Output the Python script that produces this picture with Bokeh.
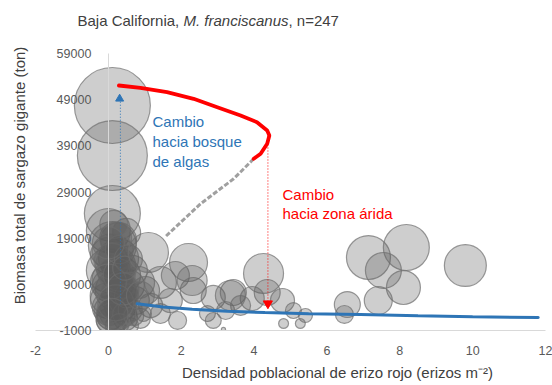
import numpy as np
from bokeh.plotting import figure
from bokeh.models import (Range1d, LinearAxis, FixedTicker, Label, ColumnDataSource,
                          CustomJSTickFormatter)
from bokeh.embed import file_html
from bokeh.resources import INLINE

# ---- data -------------------------------------------------------------
# sampled sites: red urchin density, giant kelp biomass, bubble size
urchin_density = [
    0.11, 0.11, 0.11,
    0.00, 0.11, 0.00, 0.28, 0.00, 0.39, 0.00, 0.19, 0.55, 0.00, 0.33, 0.74,
    0.06, 0.47, 0.00, 0.88, 0.66, 1.02, 0.19, 0.61, 1.16, 0.83, 0.02, 0.28, 0.50,
    0.05, 0.20, 0.10, 0.30, 0.05, 0.25, 0.10, 0.40, 0.15, 0.35, 0.00, 0.45, 0.20,
    0.60, 0.30, 0.70, 0.50, 0.15,
    0.10, 0.30, 0.00, 0.20, 0.40, 0.10, 0.30, 0.55, 0.00, 0.45,
    1.10, 2.20, 1.43, 1.84, 2.33, 2.88, 3.43, 4.26, 4.36, 3.95, 4.78, 5.08, 5.41,
    4.81, 5.27, 0.96, 1.43, 1.90, 2.72, 2.88, 3.16, 0.88, 1.70, 3.22, 3.63, 2.30, 3.35,
    7.14, 8.18, 7.55, 8.10, 7.41, 9.80, 6.56, 6.48,
]
kelp_biomass = [
    47740, 36900, 24340,
    20660, 17410, 15250, 14600, 12000, 10910, 8750, 7660, 8750, 5500, 4420, 5500,
    2250, 1600, 1170, 1600, 12000, 7660, 80, 80, 4420, 9400, 3330, 18490, 20230,
    16000, 13000, 10000, 7000, 6500, 3000, 1500, 5500, 11500, 9000, 4000, 2500, 19000,
    3500, 500, 2200, 6500, 22000,
    14000, 11000, 9500, 5000, 8000, 2500, 16500, 14500, 18000, 12500,
    15900, 13730, 9400, 10910, 7660, 6150, 7230, 11350, 7230, 5930, 5500, 3330, 2250,
    520, 520, 2680, 2680, 1170, 2680, 1170, -780, 6580, 5500, 3330, 4420, 9830, 6580,
    14810, 16980, 12000, 8310, 5500, 13080, 4630, 2470,
]
bubble_size = [
    100.0, 84.8, 54.3,
    33.5, 39.9, 22.4, 27.7, 33.5, 22.4, 17.7, 27.7, 17.7, 22.4, 17.7, 13.6,
    13.6, 10.0, 10.0, 6.9, 15.6, 13.6, 6.9, 4.4, 10.0, 17.7, 15.6, 22.4, 13.6,
    22.4, 27.7, 27.7, 22.4, 27.7, 22.4, 17.7, 13.6, 17.7, 13.6, 17.7, 10.0, 17.7,
    10.0, 6.9, 6.9, 10.0, 13.6,
    22.4, 17.7, 22.4, 22.4, 17.7, 17.7, 13.6, 13.6, 17.7, 10.0,
    27.7, 25.0, 17.7, 13.6, 11.7, 10.0, 11.7, 27.7, 11.7, 10.0, 10.0, 4.4, 3.4,
    1.7, 1.7, 4.4, 6.9, 5.6, 4.4, 4.4, 0.3, 13.6, 10.0, 5.6, 6.9, 15.6, 15.6,
    33.5, 36.6, 22.4, 20.0, 13.6, 30.5, 11.7, 5.6,
]

# equilibrium branches of the fold
upper_x = [0.29, 0.88, 1.61, 2.34, 2.99, 3.63, 4.08, 4.36, 4.42, 4.36, 4.18, 3.99]
upper_y = [52070, 51570, 50620, 49190, 47370, 45570, 44120, 42320, 41240, 39440, 37270, 36190]
middle_x = [3.99, 3.44, 2.53, 1.57]
middle_y = [36190, 31860, 26440, 19360]
lower_x = [0.79, 1.5, 2.3, 3.26, 4.3, 5.5, 6.92, 8.5, 10.0, 11.8]
lower_y = [4810, 4100, 3600, 3150, 2900, 2650, 2440, 2200, 2000, 1800]

# regime shifts
to_barren_x = 4.38
to_barren_y = [41240, 4850]
to_forest_x = 0.33
to_forest_y = [4800, 49190]

x_ticks = [-2, 0, 2, 4, 6, 8, 10, 12]
y_ticks = [-1000, 9000, 19000, 29000, 39000, 49000, 59000]

FONT = "Liberation Sans"
BLUE = "#2e75b6"
RED = "#ff0000"
INK = "#404040"

# ---- canvas geometry: the plotting area sits inside a full-canvas frame ----
W, H = 552, 385
AREA_L, AREA_R, AREA_T, AREA_B = 35, 545, 53, 330
x_lo, x_hi = x_ticks[0], x_ticks[-1]
y_lo, y_hi = y_ticks[0], y_ticks[-1]
kx = (AREA_R - AREA_L) / (x_hi - x_lo)
ky = (AREA_B - AREA_T) / (y_hi - y_lo)
X0, X1 = x_lo - AREA_L / kx, x_hi + (W - AREA_R) / kx
Y0, Y1 = y_lo - (H - AREA_B) / ky, y_hi + AREA_T / ky


def at(px, py):
    """canvas pixel -> data position (for text placement)"""
    return x_lo + (px - AREA_L) / kx, y_lo + (AREA_B - py) / ky


p = figure(width=W, height=H, output_backend="svg", toolbar_location=None,
           x_range=Range1d(X0, X1), y_range=Range1d(Y0, Y1),
           x_axis_type=None, y_axis_type=None,
           min_border=0)
p.outline_line_color = None
p.background_fill_color = "white"
p.border_fill_color = "white"

# bubbles
diam = [2 * 3.8 * np.sqrt(s) for s in bubble_size]
src = ColumnDataSource(dict(x=urchin_density, y=kelp_biomass, d=diam))
p.scatter("x", "y", size="d", source=src, marker="circle",
          fill_color="#5c5c5c", fill_alpha=0.3,
          line_color="#6f6f6f", line_alpha=0.7, line_width=1.2)

# keep bubbles inside the plotting area (mask below the horizontal axis)
p.quad(left=[X0], right=[X1], bottom=[Y0], top=[y_lo],
       fill_color="white", line_color=None)

# regime-shift guides
p.line([to_forest_x, to_forest_x], to_forest_y, line_color=BLUE,
       line_width=1, line_dash="1 2")
p.line([to_barren_x, to_barren_x], to_barren_y, line_color=RED,
       line_width=1, line_dash="1 2")

# equilibrium branches
p.line(middle_x, middle_y, line_color="#a0a0a0", line_width=3, line_dash="5 2")
p.line(upper_x, upper_y, line_color=RED, line_width=3.8, line_cap="round")
p.line(lower_x, lower_y, line_color=BLUE, line_width=3, line_cap="round")

p.scatter([to_forest_x - 0.02], [to_forest_y[1]], marker="triangle", size=8,
          fill_color=BLUE, line_color=BLUE)
p.scatter([to_barren_x], [to_barren_y[1]], marker="inverted_triangle", size=9,
          fill_color=RED, line_color=RED)

plain = CustomJSTickFormatter(code="return String(tick)")

# horizontal axis along the bottom of the plotting area
xaxis = LinearAxis(ticker=FixedTicker(ticks=x_ticks), fixed_location=y_lo,
                   bounds=(x_lo, x_hi), formatter=plain)
xaxis.axis_line_color = "#d9d9d9"
xaxis.major_tick_line_color = None
xaxis.minor_tick_line_color = None
xaxis.major_label_standoff = 9
xaxis.major_label_text_font = FONT
xaxis.major_label_text_font_size = "12.5px"
xaxis.major_label_text_color = "#595959"
p.add_layout(xaxis, "below")

# vertical axis crossing at x = 0
yaxis = LinearAxis(ticker=FixedTicker(ticks=y_ticks), fixed_location=0,
                   bounds=(y_lo, y_hi), formatter=plain)
yaxis.axis_line_color = "#d9d9d9"
yaxis.major_tick_line_color = None
yaxis.minor_tick_line_color = None
yaxis.major_label_standoff = 11
yaxis.major_label_text_font = FONT
yaxis.major_label_text_font_size = "12.5px"
yaxis.major_label_text_color = "#595959"
p.add_layout(yaxis, "left")

# annotations
bx, by = at(152, 112)
p.add_layout(Label(x=bx, y=by, text="Cambio\nhacia bosque\nde algas",
                   text_font=FONT, text_font_size="15px", text_color=BLUE,
                   text_baseline="top", text_align="left", text_line_height=1.2))
rx, ry = at(282, 185)
p.add_layout(Label(x=rx, y=ry, text="Cambio\nhacia zona árida",
                   text_font=FONT, text_font_size="15px", text_color=RED,
                   text_baseline="top", text_align="left", text_line_height=1.15))

# title (mixed styles)
title_parts = [("Baja California, ", "normal", 77),
               ("M. franciscanus", "italic", 183),
               (", n=247", "normal", 288)]
for txt, style, px in title_parts:
    tx, ty = at(px, 20)
    p.add_layout(Label(x=tx, y=ty, text=txt,
                       text_font=FONT, text_font_size="15px",
                       text_font_style=style, text_color=INK,
                       text_baseline="middle", text_align="left"))

# axis titles
tx, ty = at(337, 372)
p.add_layout(Label(x=tx, y=ty,
                   text="Densidad poblacional de erizo rojo (erizos m\u207b\u00b2)",
                   text_font=FONT, text_font_size="15px", text_color=INK,
                   text_baseline="middle", text_align="center"))
tx, ty = at(19, 175)
p.add_layout(Label(x=tx, y=ty,
                   text="Biomasa total de sargazo gigante (ton)", angle=np.pi / 2,
                   text_font=FONT, text_font_size="15px", text_color=INK,
                   text_baseline="middle", text_align="center"))

open("out.html", "w").write(file_html(p, INLINE))
